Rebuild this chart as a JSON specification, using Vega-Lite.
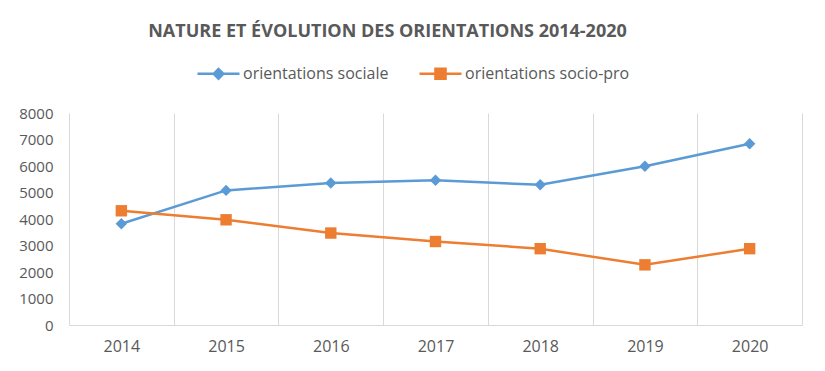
{
  "$schema": "https://vega.github.io/schema/vega-lite/v6.json",
  "autosize": {"type": "none"},
  "width": 733,
  "height": 212,
  "padding": {"left": 69, "top": 113, "right": 23, "bottom": 46},
  "background": "white",
  "title": {
    "text": "NATURE ET ÉVOLUTION DES ORIENTATIONS 2014-2020",
    "font": "Open Sans",
    "fontSize": 18,
    "fontWeight": "bold",
    "color": "#595959",
    "anchor": "middle",
    "dx": -48,
    "offset": 10
  },
  "data": {
    "values": [
      {"annee": "2014", "serie": "orientations sociale", "valeur": 3820},
      {"annee": "2015", "serie": "orientations sociale", "valeur": 5080},
      {"annee": "2016", "serie": "orientations sociale", "valeur": 5360},
      {"annee": "2017", "serie": "orientations sociale", "valeur": 5460},
      {"annee": "2018", "serie": "orientations sociale", "valeur": 5290},
      {"annee": "2019", "serie": "orientations sociale", "valeur": 5990},
      {"annee": "2020", "serie": "orientations sociale", "valeur": 6840},
      {"annee": "2014", "serie": "orientations socio-pro", "valeur": 4310},
      {"annee": "2015", "serie": "orientations socio-pro", "valeur": 3970},
      {"annee": "2016", "serie": "orientations socio-pro", "valeur": 3470},
      {"annee": "2017", "serie": "orientations socio-pro", "valeur": 3150},
      {"annee": "2018", "serie": "orientations socio-pro", "valeur": 2880},
      {"annee": "2019", "serie": "orientations socio-pro", "valeur": 2270},
      {"annee": "2020", "serie": "orientations socio-pro", "valeur": 2880}
    ]
  },
  "encoding": {
    "x": {
      "field": "annee",
      "type": "ordinal",
      "scale": {"paddingInner": 0, "paddingOuter": 0},
      "axis": {
        "title": null,
        "labelAngle": 0,
        "tickBand": "extent",
        "grid": true,
        "gridColor": "#d9d9d9",
        "gridWidth": 1,
        "ticks": false,
        "domainColor": "#d9d9d9",
        "domainWidth": 1,
        "labelFont": "Open Sans",
        "labelFontSize": 16,
        "labelColor": "#595959",
        "labelPadding": 13
      }
    },
    "y": {
      "field": "valeur",
      "type": "quantitative",
      "scale": {"domain": [0, 8000], "nice": false},
      "axis": {
        "title": null,
        "format": "d",
        "values": [0, 1000, 2000, 3000, 4000, 5000, 6000, 7000, 8000],
        "grid": false,
        "domain": false,
        "ticks": false,
        "labelFont": "Open Sans",
        "labelFontSize": 15,
        "labelColor": "#595959",
        "labelPadding": 16
      }
    },
    "color": {
      "field": "serie",
      "type": "nominal",
      "scale": {"domain": ["orientations sociale", "orientations socio-pro"], "range": ["#5B9BD5", "#ED7D31"]},
      "legend": {
        "orient": "none",
        "legendX": 127,
        "legendY": -62,
        "direction": "horizontal",
        "title": null,
        "symbolSize": 1764,
        "labelFont": "Open Sans",
        "labelFontSize": 16,
        "labelColor": "#595959",
        "labelLimit": 400,
        "labelOffset": 2,
        "columnPadding": 25,
        "encode": {
          "symbols": {
            "update": {
              "shape": {"signal": "datum.value === 'orientations sociale' ? 'M-1,0L1,0M-0.23,0L0,-0.23L0.23,0L0,0.23Z' : 'M-1,0L1,0M-0.24,-0.24L0.24,-0.24L0.24,0.24L-0.24,0.24Z'"},
              "fill": {"scale": "color", "field": "value"},
              "stroke": {"scale": "color", "field": "value"},
              "strokeWidth": {"value": 2.5},
              "opacity": {"value": 1},
              "fillOpacity": {"value": 1},
              "strokeOpacity": {"value": 1}
            }
          }
        }
      }
    }
  },
  "layer": [
    {"mark": {"type": "line", "strokeWidth": 2.5}},
    {
      "mark": {"type": "point", "filled": true, "opacity": 1, "size": 130},
      "encoding": {
        "shape": {
          "condition": {"test": "datum.serie === 'orientations sociale'", "value": "diamond"},
          "value": "square"
        }
      }
    }
  ],
  "config": {"view": {"stroke": null}}
}
